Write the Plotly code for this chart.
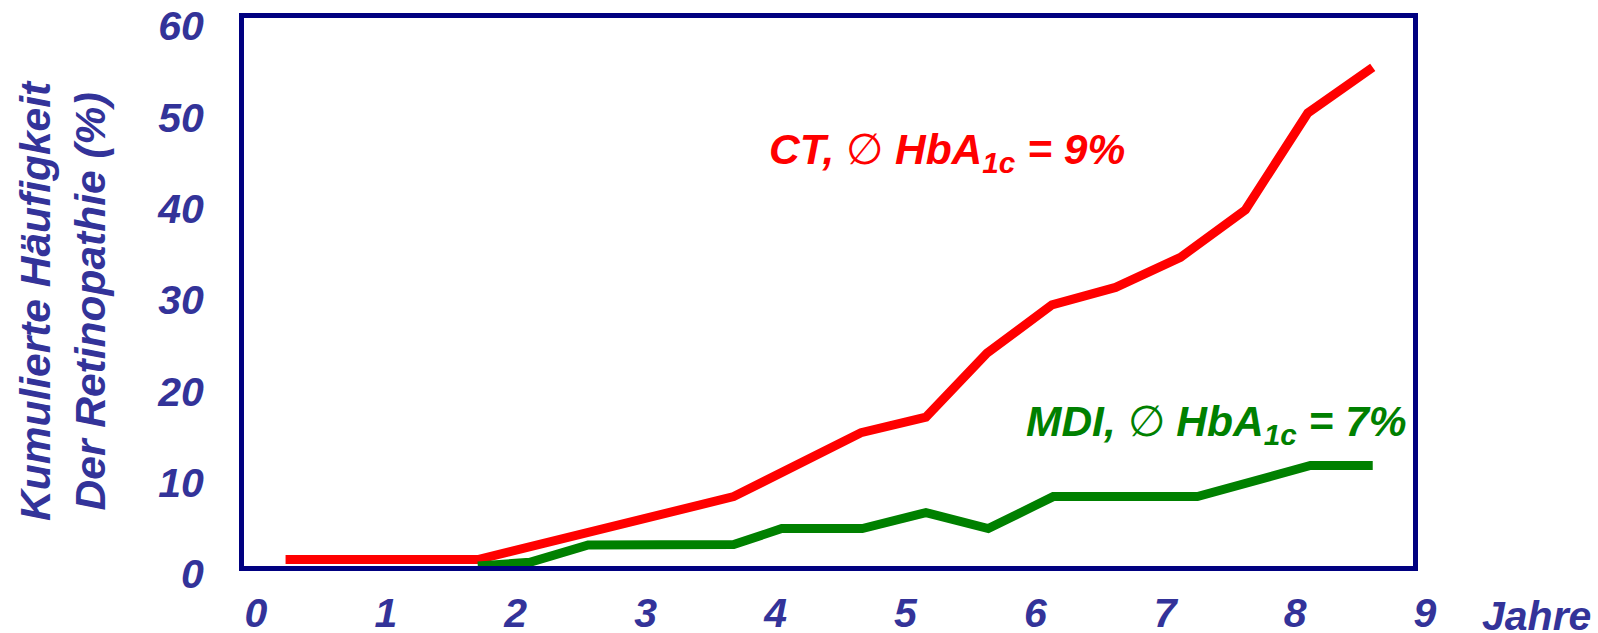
import plotly.graph_objects as go

# Cumulative incidence of retinopathy (%) by years of follow-up
ct_years = [0.32, 1.80, 3.77, 4.75, 5.25, 5.72, 6.22, 6.71, 7.21, 7.71, 8.19, 8.69]
ct_values = [0.7, 0.7, 7.6, 14.6, 16.3, 23.3, 28.6, 30.5, 33.8, 39.0, 49.6, 54.6]

mdi_years = [1.80, 2.20, 2.65, 3.77, 4.14, 4.76, 5.25, 5.73, 6.23, 7.34, 8.21, 8.69]
mdi_values = [0.0, 0.4, 2.3, 2.35, 4.1, 4.1, 5.85, 4.1, 7.6, 7.6, 11.0, 11.0]

x_ticks = [0, 1, 2, 3, 4, 5, 6, 7, 8, 9]
y_ticks = [0, 10, 20, 30, 40, 50, 60]

ct_label = 'CT, <span style="font-weight:normal;font-style:normal">∅</span> HbA<sub>1c</sub> = 9%'
mdi_label = 'MDI, <span style="font-weight:normal;font-style:normal">∅</span> HbA<sub>1c</sub> = 7%'
y_title = "Kumulierte Häufigkeit<br>Der Retinopathie (%)"
x_unit = "Jahre"

AXIS_BLUE = "#333399"
FRAME = "#000080"
FONT = "Liberation Sans, Arial, sans-serif"

fig = go.Figure()
fig.add_trace(go.Scatter(x=ct_years, y=ct_values, mode="lines",
                         line=dict(color="#FF0000", width=9), hoverinfo="skip"))
fig.add_trace(go.Scatter(x=mdi_years, y=mdi_values, mode="lines",
                         line=dict(color="#008000", width=9), hoverinfo="skip"))

tickfont = dict(family=FONT, size=41, color=AXIS_BLUE, weight="bold", style="italic")

fig.update_xaxes(range=[0, 9], tickvals=x_ticks, ticktext=[str(v) for v in x_ticks],
                 showgrid=False, zeroline=False, showline=True, mirror=True,
                 linecolor=FRAME, linewidth=5, ticks="", tickfont=tickfont,
                 ticklabelstandoff=7, ticklabelshift=12,
                 automargin=False, ticklabeloverflow="allow")
fig.update_yaxes(range=[0, 60], tickvals=y_ticks, ticktext=[str(v) for v in y_ticks],
                 showgrid=False, zeroline=False, showline=True, mirror=True,
                 linecolor=FRAME, linewidth=5, ticks="", tickfont=tickfont,
                 ticklabelstandoff=27, ticklabelshift=8,
                 automargin=False, ticklabeloverflow="allow")

label_font = dict(family=FONT, size=42.5, weight="bold", style="italic")
fig.add_annotation(x=4.03, y=45.3, xref="x", yref="y", text=ct_label, showarrow=False,
                   xanchor="left", yanchor="middle", font=dict(label_font, color="#FF0000"))
fig.add_annotation(x=6.005, y=15.5, xref="x", yref="y", text=mdi_label, showarrow=False,
                   xanchor="left", yanchor="middle", font=dict(label_font, color="#008000"))
fig.add_annotation(x=1.057, y=-0.092, xref="paper", yref="paper", text=x_unit, showarrow=False,
                   xanchor="left", yanchor="middle",
                   font=dict(family=FONT, size=41, color=AXIS_BLUE, weight="bold", style="italic"))
fig.add_annotation(x=-0.155, y=0.485, xref="paper", yref="paper", text=y_title, showarrow=False,
                   textangle=-90, xanchor="center", yanchor="middle",
                   font=dict(family=FONT, size=42.5, color=AXIS_BLUE, weight="bold", style="italic"))

fig.update_layout(width=1598, height=633, showlegend=False,
                  paper_bgcolor="white", plot_bgcolor="white",
                  margin=dict(l=244, r=185, t=18, b=67, autoexpand=False))

fig.write_html("out.html", config={"displayModeBar": False})
